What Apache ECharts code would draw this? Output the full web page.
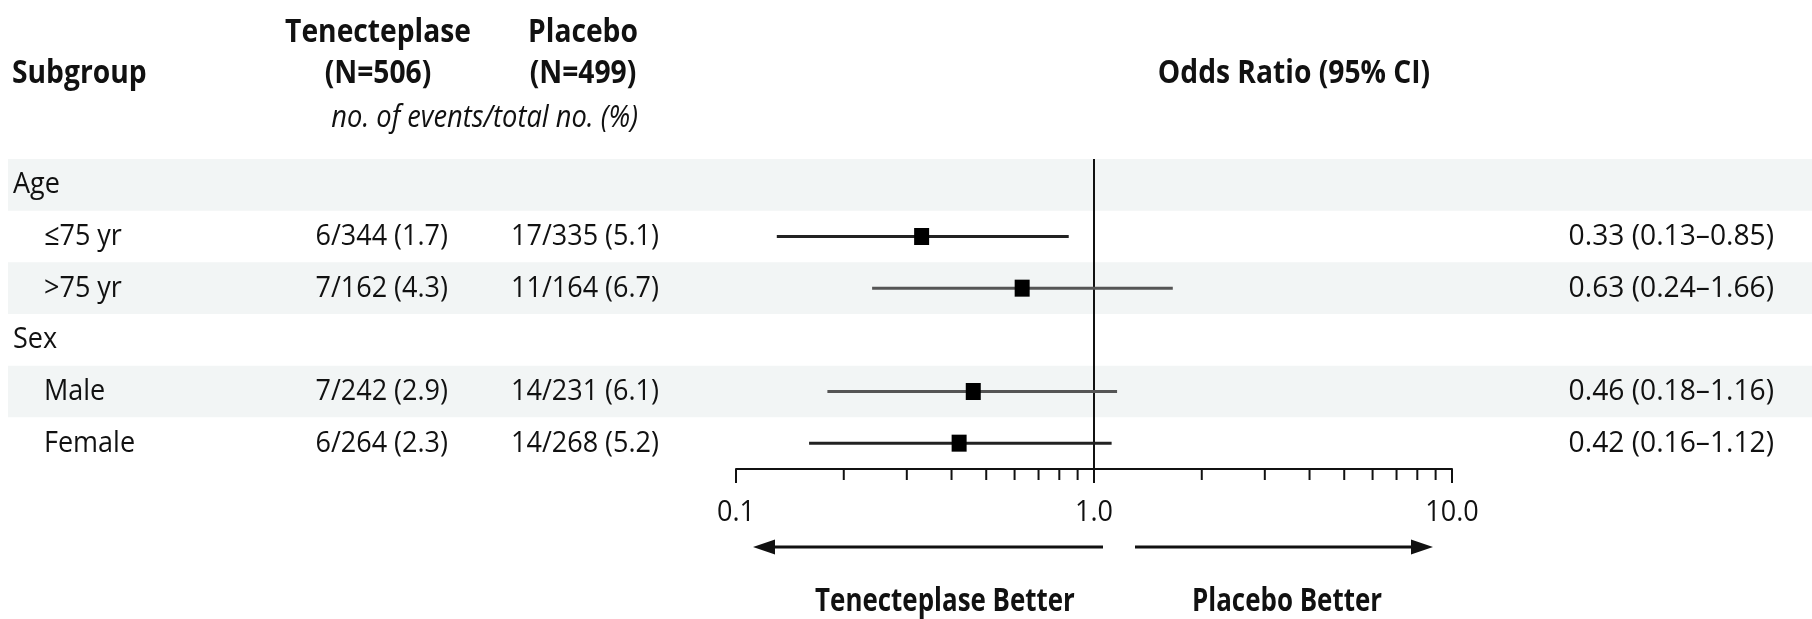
<!DOCTYPE html>
<html><head><meta charset="utf-8">
<script src="https://cdn.jsdelivr.net/npm/echarts@6/dist/echarts.min.js"></script>
<style>html,body{margin:0;padding:0;background:#fff}#c{width:1812px;height:619px}</style>
</head><body><div id="c"></div>
<script>
// ---- data ----
const rowLabels   = ['Age', '\u226475 yr', '>75 yr', 'Sex', 'Male', 'Female'];
const rowIsHeader = [true, false, false, true, false, false];
const tnkEvents   = [null, 6, 7, null, 7, 6];
const tnkTotal    = [null, 344, 162, null, 242, 264];
const tnkPct      = [null, 1.7, 4.3, null, 2.9, 2.3];
const pboEvents   = [null, 17, 11, null, 14, 14];
const pboTotal    = [null, 335, 164, null, 231, 268];
const pboPct      = [null, 5.1, 6.7, null, 6.1, 5.2];
const oddsRatio   = [null, 0.33, 0.63, null, 0.46, 0.42];
const ciLow       = [null, 0.13, 0.24, null, 0.18, 0.16];
const ciHigh      = [null, 0.85, 1.66, null, 1.16, 1.12];
const bandRows    = [0, 2, 4];
const xTickValues = [0.1, 1, 10];
const xTickLabels = ['0.1', '1.0', '10.0'];
const minorTickValues = [0.2, 0.3, 0.4, 0.5, 0.6, 0.7, 0.8, 0.9, 2, 3, 4, 5, 6, 7, 8, 9];

// ---- style ----
const FONT = '"Open Sans", "Noto Sans", sans-serif';
const BODY = 30, SX = 0.9, SXOR = 0.94;
const HEAD = 33, SXH = 0.855;   // top headers
const FOOT = 32, SXF = 0.81;    // bottom direction labels
const INK = '#111';

const rows = rowLabels.map((l, i) => i);
const fmtCount = (e, t, p) => e + '/' + t + ' (' + p.toFixed(1) + ')';
const fmtOR = (o, l, h) => o.toFixed(2) + ' (' + l.toFixed(2) + '\u2013' + h.toFixed(2) + ')';

const chart = echarts.init(document.getElementById('c'), null, {renderer: 'canvas'});

function txt(x, y, text, align, weight, size, sx) {
  return {
    type: 'text', x: x, y: y, scaleX: sx || SX, scaleY: 1,
    style: {x: 0, y: 0, text: text, align: align, verticalAlign: 'middle',
      fill: INK, font: (weight || 'normal') + ' ' + (size || BODY) + 'px ' + FONT}
  };
}
const head = (x, y, t, a) => txt(x, y, t, a, 'bold', HEAD, SXH);
const foot = (x, y, t, a) => txt(x, y, t, a, 'bold', FOOT, SXF);

const option = {
  animation: false,
  backgroundColor: '#fff',
  grid: {left: 736, right: 360, top: 159, bottom: 150, containLabel: false},
  xAxis: {
    type: 'log', logBase: 10, min: 0.1, max: 10,
    axisLine: {show: true, onZero: false, lineStyle: {color: INK, width: 2}},
    axisTick: {show: true, inside: false, length: 14, lineStyle: {color: INK, width: 2}},
    splitLine: {show: false},
    minorTick: {show: false},
    axisLabel: {show: false}
  },
  yAxis: {type: 'value', min: -0.5, max: 5.5, inverse: true, show: false},
  series: [
    { // row bands
      type: 'custom', z: 1, silent: true,
      data: bandRows.map(r => [1, r]),
      renderItem: (params, api) => {
        const r = api.value(1);
        const y0 = api.coord([1, r - 0.5])[1], y1 = api.coord([1, r + 0.5])[1];
        return {type: 'rect', shape: {x: 8, y: y0, width: api.getWidth() - 8, height: y1 - y0},
          style: {fill: '#f2f5f5'}};
      }
    },
    { // table text
      type: 'custom', z: 3, silent: true,
      data: rows.map(i => [1, i]),
      renderItem: (params, api) => {
        const i = api.value(1);
        const y = api.coord([1, i])[1];
        const children = [txt(rowIsHeader[i] ? 13 : 44, y, rowLabels[i], 'left')];
        if (!rowIsHeader[i]) {
          children.push(txt(448, y, fmtCount(tnkEvents[i], tnkTotal[i], tnkPct[i]), 'right'));
          children.push(txt(659, y, fmtCount(pboEvents[i], pboTotal[i], pboPct[i]), 'right'));
          children.push(txt(1774, y, fmtOR(oddsRatio[i], ciLow[i], ciHigh[i]), 'right', 'normal', BODY, SXOR));
        }
        return {type: 'group', children: children};
      }
    },
    { // x tick labels
      type: 'custom', z: 3, silent: true,
      data: xTickValues.map((v, k) => [v, 5.5, k]),
      renderItem: (params, api) => {
        const p = api.coord([api.value(0), 5.5]);
        return txt(p[0], p[1] + 43, xTickLabels[api.value(2)], 'center');
      }
    },
    { // reference line at OR = 1
      type: 'custom', z: 2, silent: true,
      data: [[1, 0]],
      renderItem: (params, api) => {
        const a = api.coord([api.value(0), -0.5]), b = api.coord([api.value(0), 5.5]);
        return {type: 'line', shape: {x1: a[0], y1: a[1], x2: b[0], y2: b[1]},
          style: {stroke: INK, lineWidth: 2}};
      }
    },
    { // minor ticks
      type: 'custom', z: 2, silent: true,
      data: minorTickValues.map(v => [v, 5.5]),
      renderItem: (params, api) => {
        const p = api.coord([api.value(0), 5.5]);
        return {type: 'line', shape: {x1: p[0], y1: p[1], x2: p[0], y2: p[1] + 11},
          style: {stroke: INK, lineWidth: 2}};
      }
    },
    { // CI lines + point estimates
      type: 'custom', z: 4, silent: true,
      data: rows.filter(i => oddsRatio[i] != null).map(i => [oddsRatio[i], i, ciLow[i], ciHigh[i]]),
      renderItem: (params, api) => {
        const or = api.value(0), r = api.value(1), lo = api.value(2), hi = api.value(3);
        const pl = api.coord([lo, r]), ph = api.coord([hi, r]), po = api.coord([or, r]);
        const col = bandRows.indexOf(r) >= 0 ? '#555' : '#222';
        return {type: 'group', children: [
          {type: 'line', shape: {x1: pl[0], y1: pl[1], x2: ph[0], y2: ph[1]},
            style: {stroke: col, lineWidth: 3}},
          {type: 'rect', shape: {x: po[0] - 7.5, y: po[1] - 8.5, width: 15, height: 17},
            style: {fill: '#000'}}
        ]};
      }
    }
  ],
  graphic: [
    head(12, 74, 'Subgroup', 'left'),
    head(378, 33, 'Tenecteplase', 'center'),
    head(378, 74, '(N=506)', 'center'),
    head(583, 33, 'Placebo', 'center'),
    head(583, 74, '(N=499)', 'center'),
    txt(638, 118, 'no. of events/total no. (%)', 'right', 'italic', 31, 0.88),
    head(1294, 74, 'Odds Ratio (95% CI)', 'center'),
    // direction arrows
    {type: 'line', shape: {x1: 1103, y1: 547, x2: 770, y2: 547}, style: {stroke: INK, lineWidth: 3}},
    {type: 'polygon', shape: {points: [[753, 547], [775, 539.5], [775, 554.5]]}, style: {fill: INK}},
    {type: 'line', shape: {x1: 1135, y1: 547, x2: 1416, y2: 547}, style: {stroke: INK, lineWidth: 3}},
    {type: 'polygon', shape: {points: [[1433, 547], [1411, 539.5], [1411, 554.5]]}, style: {fill: INK}},
    foot(945, 602, 'Tenecteplase Better', 'center'),
    foot(1287, 602, 'Placebo Better', 'center')
  ]
};
chart.setOption(option);
</script></body></html>
